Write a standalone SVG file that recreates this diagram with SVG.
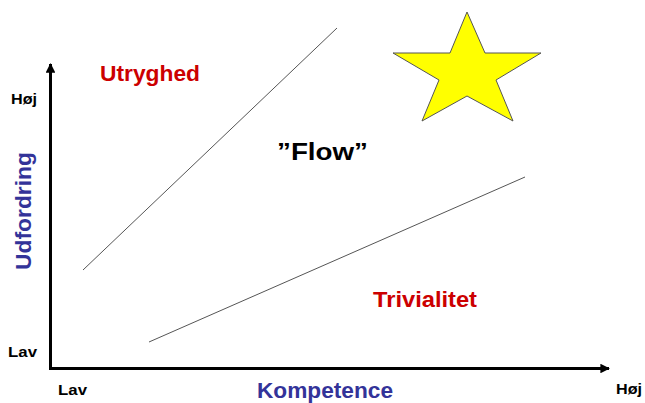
<svg xmlns="http://www.w3.org/2000/svg" width="645" height="403" viewBox="0 0 645 403">
<style>
.lbl{font-family:"Liberation Sans",Arial,sans-serif;font-weight:bold}
.ax{font-size:15.5px;fill:#000}
.red{font-size:22px;fill:#cc0000}
.blue{font-size:22px;fill:#333399}
.axis{stroke:#000;stroke-width:3;fill:none}
.ln{stroke:#555;stroke-width:1;fill:none}
</style>
<defs>
<marker id="ah" viewBox="0 0 10 10" refX="9" refY="5" markerWidth="3.6" markerHeight="3.2" orient="auto" markerUnits="strokeWidth">
<path d="M0,0 L10,5 L0,10 Z" fill="#000"/>
</marker>
</defs>
<rect width="645" height="403" fill="#fff"/>
<g id="connectors">
<path class="axis" d="M50.5,369 L50.5,64" marker-end="url(#ah)"/>
<path class="axis" d="M49,368.5 L609,368.5" marker-end="url(#ah)"/>
<line class="ln" x1="83" y1="270" x2="337" y2="28"/>
<line class="ln" x1="149" y1="342" x2="525" y2="177"/>
</g>
<g id="star">
<polygon points="467,12 485,53 541,53 496,80 513,121 467,96 422,121 439,80 393,53 450,53" fill="#ffff00" stroke="#555" stroke-width="1"/>
</g>
<g id="y-high"><text class="lbl ax" x="11" y="104" textLength="26" lengthAdjust="spacingAndGlyphs">Høj</text></g>
<g id="y-low"><text class="lbl ax" x="8" y="357" textLength="29" lengthAdjust="spacingAndGlyphs">Lav</text></g>
<g id="x-low"><text class="lbl ax" x="58" y="395" textLength="29" lengthAdjust="spacingAndGlyphs">Lav</text></g>
<g id="x-high"><text class="lbl ax" x="616" y="394" textLength="26" lengthAdjust="spacingAndGlyphs">Høj</text></g>
<g id="utryghed"><text class="lbl red" x="100" y="81" textLength="100" lengthAdjust="spacingAndGlyphs">Utryghed</text></g>
<g id="trivialitet"><text class="lbl red" x="373" y="307" textLength="104" lengthAdjust="spacingAndGlyphs">Trivialitet</text></g>
<g id="flow"><text class="lbl" x="277" y="160" font-size="24" fill="#000" textLength="91" lengthAdjust="spacingAndGlyphs">”Flow”</text></g>
<g id="kompetence"><text class="lbl blue" x="257" y="398" textLength="136" lengthAdjust="spacingAndGlyphs">Kompetence</text></g>
<g id="udfordring"><text class="lbl blue" transform="translate(31,270) rotate(-90)" x="0" y="0" textLength="118" lengthAdjust="spacingAndGlyphs">Udfordring</text></g>
</svg>
